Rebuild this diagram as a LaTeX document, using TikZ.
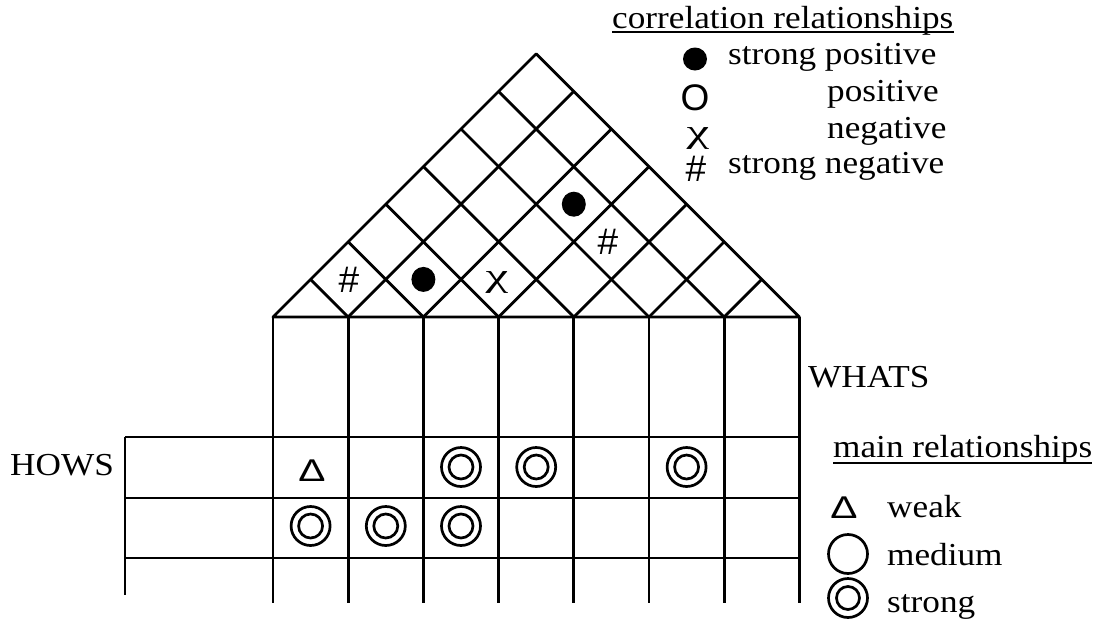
\documentclass[tikz,border=0pt]{standalone}
\usepackage{fontspec}
\setmainfont[FakeStretch=1.1]{Liberation Serif}
\newfontfamily\marksf{Liberation Sans}
\usetikzlibrary{calc}
\tikzset{
  gridline/.style={line width=2.8pt},
  ring/.style={line width=2.7pt},
  uline/.style={line width=1.8pt},
  lbl/.style={inner sep=0pt,anchor=base west,font=\fontsize{32}{38}\selectfont},
  relmark/.style={inner sep=0pt,font=\marksf\fontsize{37}{42}\selectfont},
  chimark/.style={inner sep=0pt,font=\fontsize{32}{38}\selectfont}
}
\newcommand{\chisym}{\scalebox{1.45}[1.02]{χ}}
\newcommand{\weaksym}{\scalebox{1.1}[0.85]{Δ}}

\begin{document}
\begin{tikzpicture}[x=1pt,y=-1pt]
 \useasboundingbox (0,0) rectangle (1114,632);
 % roof: correlation matrix
 \draw[gridline,line join=round] (273,317) -- (536.2,53.8) -- (799.4,317) -- cycle;
 \foreach \k in {1,...,6}
   \draw[gridline] ({273+75.2*\k},317) -- ++({-37.6*\k},{-37.6*\k})
                   ({273+75.2*\k},317) -- ++({37.6*(7-\k)},{-37.6*(7-\k)});
 % columns and rows
 \foreach \k in {0,...,7}
   \draw[gridline] ({273+75.2*\k},317) -- ({273+75.2*\k},603);
 \foreach \r in {437,498,558}
   \draw[gridline] (125,\r) -- (799.4,\r);
 \draw[gridline] (125,437) -- (125,595);
 % correlations
 \node[relmark] (c01) at (349,280) {\#};
 \fill (423.4,279.4) ellipse [x radius=12,y radius=12.5];
 \node[chimark] (c23) at (497,282) {\chisym};
 \fill (573.8,204.2) ellipse [x radius=12,y radius=12.5];
 \node[relmark] (c35) at (608,242) {\#};
 % main relationships
 \node[relmark] (w00) at (312,471) {\weaksym};
 \foreach \x/\y in {461/467,536.2/467,686.6/467,310.6/526,385.8/526,461/526}
   \draw[ring] (\x,\y) circle[radius=19.5] (\x,\y) circle[radius=12];
 % axis labels
 \node[lbl] (hows) at (10,475) {HOWS};
 \node[lbl] (whats) at (808,387) {WHATS};
 % correlation legend
 \node[lbl] (corrtitle) at (612,28) {correlation relationships};
 \draw[uline] ([yshift=-4pt]corrtitle.base west) -- ([yshift=-4pt]corrtitle.base east);
 \fill (695,59) ellipse [x radius=12,y radius=11.5];
 \node[lbl] (spos) at (728,64) {strong positive};
 \node[relmark] (opos) at (695,98) {O};
 \node[lbl] (pos) at (827,101) {positive};
 \node[chimark] (xneg) at (698,138) {\chisym};
 \node[lbl] (neg) at (827,138) {negative};
 \node[relmark] (hneg) at (696,169) {\#};
 \node[lbl] (sneg) at (728,173) {strong negative};
 % main legend
 \node[lbl] (maintitle) at (833,457) {main relationships};
 \draw[uline] ([yshift=-6pt]maintitle.base west) -- ([yshift=-6pt]maintitle.base east);
 \node[relmark] (dweak) at (844,508) {\weaksym};
 \node[lbl] (weak) at (887,517) {weak};
 \draw[ring] (848,554) circle[radius=19.5];
 \node[lbl] (medium) at (887,565) {medium};
 \draw[ring] (848,598) circle[radius=19.5] (848,598) circle[radius=11.5];
 \node[lbl] (strong) at (887,612) {strong};
\end{tikzpicture}
\end{document}
